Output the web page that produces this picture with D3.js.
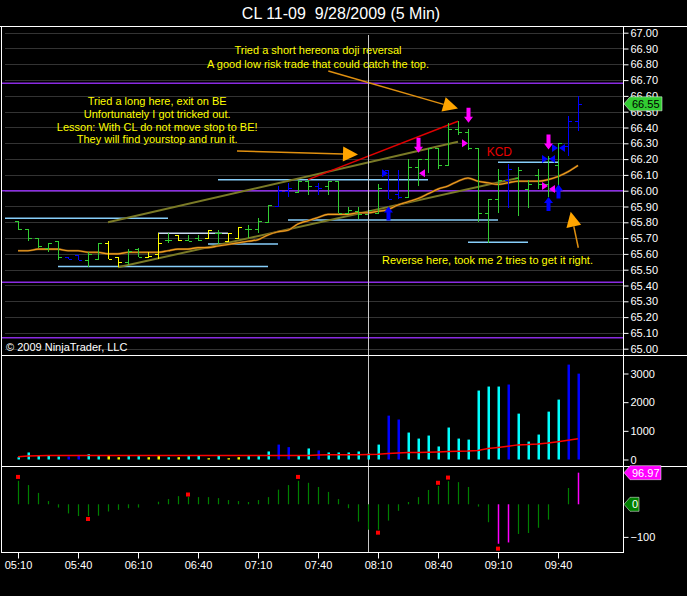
<!DOCTYPE html>
<html>
<head>
<meta charset="utf-8">
<script src="https://cdn.jsdelivr.net/npm/d3@7"></script>
<style>
body { margin: 0; background: #000; }
svg { display: block; font-family: "Liberation Sans", Arial, sans-serif; }
</style>
</head>
<body>
<div id="chart-wrapper"></div>
<script>
let width = 687
let height = 596

// 5 min bars, CL 11-09, 9/28/2009
let times = [
  "05:10","05:15","05:20","05:25","05:30","05:35","05:40","05:45","05:50","05:55",
  "06:00","06:05","06:10","06:15","06:20","06:25","06:30","06:35","06:40","06:45","06:50","06:55",
  "07:00","07:05","07:10","07:15","07:20","07:25","07:30","07:35","07:40","07:45","07:50","07:55",
  "08:00","08:05","08:10","08:15","08:20","08:25","08:30","08:35","08:40","08:45","08:50","08:55",
  "09:00","09:05","09:10","09:15","09:20","09:25","09:30","09:35","09:40","09:45","09:50"
]
let opens = [
  65.81,65.76,65.70,65.64,65.68,65.58,65.59,65.56,65.57,65.67,
  65.58,65.55,65.63,65.58,65.60,65.69,65.72,65.69,65.70,65.70,
  65.73,65.68,65.70,65.76,65.76,65.80,65.90,66.00,65.99,66.06,
  66.03,66.03,66.06,65.86,65.87,65.85,65.86,66.13,65.98,65.96,
  66.15,66.20,66.27,66.16,66.39,66.37,66.27,65.86,65.95,66.07,
  66.08,66.01,66.10,66.04,66.16,66.28,66.44
]
let highs = [
  65.81,65.76,65.70,65.67,65.68,65.58,65.59,65.61,65.67,65.68,
  65.58,65.63,65.64,65.61,65.73,65.73,65.72,65.72,65.72,65.75,
  65.75,65.73,65.77,65.78,65.83,65.91,66.03,66.05,66.07,66.07,
  66.05,66.06,66.06,65.90,65.90,65.90,66.04,66.13,66.13,66.20,
  66.20,66.27,66.27,66.43,66.44,66.39,66.27,65.95,66.14,66.17,
  66.15,66.07,66.14,66.22,66.30,66.47,66.60
]
let lows = [
  65.75,65.68,65.64,65.61,65.56,65.57,65.56,65.52,65.57,65.57,
  65.52,65.53,65.58,65.58,65.57,65.67,65.68,65.68,65.68,65.70,
  65.66,65.68,65.70,65.70,65.73,65.80,65.90,65.96,65.99,65.97,
  65.97,65.97,65.86,65.85,65.82,65.85,65.86,65.95,65.95,65.96,
  66.03,66.11,66.14,66.16,66.35,66.26,65.80,65.67,65.86,65.89,
  65.84,65.89,66.01,65.96,65.99,66.22,66.38
]
let closes = [
  65.76,65.70,65.65,65.67,65.58,65.57,65.56,65.60,65.67,65.57,
  65.55,65.62,65.58,65.585,65.67,65.69,65.69,65.68,65.69,65.75,
  65.73,65.73,65.77,65.76,65.81,65.91,66.00,66.02,66.06,66.03,
  66.02,66.06,65.86,65.88,65.85,65.88,66.02,65.95,65.96,66.15,
  66.20,66.27,66.16,66.39,66.37,66.27,65.86,65.95,66.07,66.14,
  66.13,66.04,66.04,66.21,66.30,66.44,66.55
]
// paint bar state per bar: g = green, b = blue, y = yellow
let barState = [
  "g","g","g","g","g","b","b","g","g","y",
  "y","g","g","y","y","g","y","g","g","y",
  "g","y","y","g","g","g","b","b","g","g",
  "b","g","g","g","g","g","g","b","b","g",
  "g","g","g","g","g","g","g","g","g","b",
  "g","g","g","g","g","b","b"
]
let priceMA = [
  65.62,65.62,65.63,65.63,65.63,65.62,65.62,65.61,65.61,65.60,
  65.60,65.61,65.61,65.61,65.61,65.62,65.63,65.63,65.64,65.64,
  65.65,65.66,65.67,65.68,65.69,65.72,65.74,65.75,65.79,65.81,
  65.83,65.85,65.85,65.85,65.86,65.86,65.87,65.88,65.91,65.93,
  65.95,65.98,66.01,66.03,66.06,66.08,66.06,66.05,66.04,66.05,
  66.06,66.06,66.06,66.07,66.09,66.12,66.16
]
let volumes = [
  80,245,150,150,105,105,160,185,115,115,
  80,115,115,80,115,80,80,115,150,45,
  150,45,80,115,115,280,520,430,150,385,
  315,245,245,245,280,210,520,1530,1395,940,
  730,835,455,1115,730,695,2405,2545,2545,2615,
  1600,625,870,1670,2090,3310,2995
]
let volumeMA = [
  100,120,135,140,140,140,140,140,140,140,
  140,140,140,140,140,140,140,140,140,140,
  140,140,140,140,140,140,140,140,140,140,
  160,165,165,170,170,175,185,205,225,240,
  245,255,265,275,285,295,315,380,420,465,
  510,520,540,575,620,670,720
]
let oscValues = [
  72,59,35,10,-10,-28,-36,-36,-35,-22,
  -17,-12,-10,0,8,16,25,23,22,22,
  19,13,10,7,13,22,45,59,72,66,
  53,38,16,-12,-53,-78,-78,-50,-20,7,
  22,44,56,71,68,53,-7,-55,-121,-117,
  -91,-88,-72,-47,0,50,97
]
let oscHot = [48, 49, 56]
let oscDots = [[0,84],[7,-45],[17,30],[28,84],[36,-87],[42,66],[43,82],[48,-136]]

// drawn objects: [start bar, end bar, price]
let purpleLevels = [66.68, 66.00, 65.42, 65.07]
let cyanLevels = [
  [-1.3,15,65.825],[4,25,65.52],[19,26,65.663],[14,21,65.73],
  [27,48,65.815],[20,41,66.07],[45,51,65.674],[48,54,66.18]
]
// trend lines: [bar, price, bar, price]
let redLines = [[29,66.07,44,66.44]]
let oliveLines = [[9,65.80,44,66.31],[10,65.515,50,66.08]]
let downArrows = [[40,66.24],[45,66.43],[53,66.26]]
let upArrows = [[37,65.90],[53,65.96],[54,66.04]]
let rightTris = [[37,66.11,"#0000ff"],[45,66.30,"#ff00ff"],[53,66.03,"#ff00ff"],[53,66.20,"#0000ff"],[54,66.27,"#0000ff"]]
let leftTris = [[40,66.11,"#ff00ff"],[53,66.01,"#ff00ff"],[53,66.20,"#0000ff"],[54,66.27,"#0000ff"]]
let noteArrows = [[31.03,66.758,44,66.52],[21.9,66.251,34,66.229],[56.03,65.639,55.27,65.867]]
let shortNote = ["Tried a short hereona doji reversal","A good low risk trade that could catch the top."]
let shortNoteY = [66.887, 66.803]
let longNote = ["Tried a long here, exit on BE","Unfortunately I got tricked out.","Lesson: With CL do not move stop to BE!","They will find yourstop and run it."]
let longNoteY = [66.566, 66.482, 66.402, 66.326]
let crossBar = 35

let priceTicks = [65.0,65.1,65.2,65.3,65.4,65.5,65.6,65.7,65.8,65.9,66.0,66.1,66.2,66.3,66.4,66.5,66.6,66.7,66.8,66.9,67.0]
let volTicks = [0,1000,2000,3000]
let oscTicks = [-100]
let timeTicks = ["05:10","05:40","06:10","06:40","07:10","07:40","08:10","08:40","09:10","09:40"]

let barColor = {g:"#32cd32", b:"#0000ff", y:"#ffff00"}
let volColor = {g:"#00ffff", b:"#0000ff", y:"#ffff00"}
let parseTime = d3.timeParse("%H:%M")

let svg = d3
  .select("#chart-wrapper")
  .append("svg")
  .attr("width", width)
  .attr("height", height)
svg.append("rect").attr("width", width).attr("height", height).attr("fill", "#000")

// Scales
let x = d3.scaleLinear().domain([0, times.length-1]).range([18, 578])
let xTime = d3.scaleTime().domain(d3.extent(times, t=>parseTime(t))).range([18, 578])
let yPrice = d3.scaleLinear().domain([65, 67]).range([348.7, 32.7])
let yVol = d3.scaleLinear().domain([0, 3000]).range([459.5, 373.5])
let yOsc = d3.scaleLinear().domain([-100, 0]).range([536.9, 504.3])

// Title
svg.append("text")
  .attr("x", 341).attr("y", 19)
  .attr("text-anchor", "middle")
  .attr("fill", "#fff")
  .attr("font-size", 16)
  .style("white-space", "pre")
  .text("CL 11-09  9/28/2009 (5 Min)")

// Price grid
let price = svg.append("g").attr("class", "price")
price.selectAll(".grid")
  .data(priceTicks)
  .enter()
  .append("line")
  .attr("x1", 5).attr("x2", 623)
  .attr("y1", d=>Math.round(yPrice(d))+0.5).attr("y2", d=>Math.round(yPrice(d))+0.5)
  .attr("stroke", "#333")

// crosshair
svg.append("line")
  .attr("x1", x(crossBar)+0.5).attr("x2", x(crossBar)+0.5)
  .attr("y1", 35).attr("y2", 552)
  .attr("stroke", "#c8c8c8")

price.selectAll(".purple")
  .data(purpleLevels)
  .enter()
  .append("line")
  .attr("x1", 2).attr("x2", 623)
  .attr("y1", d=>yPrice(d)).attr("y2", d=>yPrice(d))
  .attr("stroke", "#8a2be2").attr("stroke-width", 1.5)

price.selectAll(".cyan")
  .data(cyanLevels)
  .enter()
  .append("line")
  .attr("x1", d=>x(d[0])).attr("x2", d=>x(d[1]))
  .attr("y1", d=>yPrice(d[2])).attr("y2", d=>yPrice(d[2]))
  .attr("stroke", (d,i)=>i==3 ? "#c8d8f0" : "#87cefa").attr("stroke-width", 1.5)

price.selectAll(".olive")
  .data(oliveLines)
  .enter()
  .append("line")
  .attr("x1", d=>x(d[0])).attr("y1", d=>yPrice(d[1]))
  .attr("x2", d=>x(d[2])).attr("y2", d=>yPrice(d[3]))
  .attr("stroke", "#7a7a26").attr("stroke-width", 2)

price.selectAll(".red")
  .data(redLines)
  .enter()
  .append("line")
  .attr("x1", d=>x(d[0])).attr("y1", d=>yPrice(d[1]))
  .attr("x2", d=>x(d[2])).attr("y2", d=>yPrice(d[3]))
  .attr("stroke", "#e00000").attr("stroke-width", 1.5)

// moving average
let maLine = d3.line().x((d,i)=>x(i)).y(d=>yPrice(d)).curve(d3.curveMonotoneX)
price.append("path")
  .attr("d", maLine(priceMA))
  .attr("fill", "none")
  .attr("stroke", "#7a4a10").attr("stroke-width", 2.2)
price.append("path")
  .attr("d", maLine(priceMA))
  .attr("fill", "none")
  .attr("stroke", "#f0a020").attr("stroke-width", 1.1)

// OHLC bars
let bars = price.selectAll(".bar")
  .data(times)
  .enter()
  .append("g")
  .attr("stroke", (d,i)=>barColor[barState[i]])
  .attr("shape-rendering", "crispEdges")
bars.append("line")
  .attr("x1", (d,i)=>x(i)+0.5).attr("x2", (d,i)=>x(i)+0.5)
  .attr("y1", (d,i)=>yPrice(highs[i])).attr("y2", (d,i)=>yPrice(lows[i]))
bars.append("line")
  .attr("x1", (d,i)=>x(i)-3).attr("x2", (d,i)=>x(i)+0.5)
  .attr("y1", (d,i)=>Math.round(yPrice(opens[i]))+0.5).attr("y2", (d,i)=>Math.round(yPrice(opens[i]))+0.5)
bars.append("line")
  .attr("x1", (d,i)=>x(i)+0.5).attr("x2", (d,i)=>x(i)+4)
  .attr("y1", (d,i)=>Math.round(yPrice(closes[i]))+0.5).attr("y2", (d,i)=>Math.round(yPrice(closes[i]))+0.5)

// signal arrows
price.selectAll(".down")
  .data(downArrows)
  .enter()
  .append("path")
  .attr("d", d=>{
    let px = x(d[0])+0.5, py = yPrice(d[1])
    return `M${px},${py} L${px-4.5},${py-6} L${px-2},${py-6} L${px-2},${py-15} L${px+2},${py-15} L${px+2},${py-6} L${px+4.5},${py-6} Z`
  })
  .attr("fill", "#ff00ff")
price.selectAll(".up")
  .data(upArrows)
  .enter()
  .append("path")
  .attr("d", d=>{
    let px = x(d[0])+0.5, py = yPrice(d[1])
    return `M${px},${py} L${px-4.5},${py+6} L${px-2},${py+6} L${px-2},${py+14} L${px+2},${py+14} L${px+2},${py+6} L${px+4.5},${py+6} Z`
  })
  .attr("fill", "#0000ff")
price.selectAll(".rtri")
  .data(rightTris)
  .enter()
  .append("path")
  .attr("d", d=>{
    let px = x(d[0]), py = yPrice(d[1])
    return `M${px-6},${py-4} L${px},${py} L${px-6},${py+4} Z`
  })
  .attr("fill", d=>d[2])
price.selectAll(".ltri")
  .data(leftTris)
  .enter()
  .append("path")
  .attr("d", d=>{
    let px = x(d[0])+1, py = yPrice(d[1])
    return `M${px+6},${py-4} L${px},${py} L${px+6},${py+4} Z`
  })
  .attr("fill", d=>d[2])

// orange note arrows
noteArrows.forEach(a=>{
  let x0 = x(a[0]), y0 = yPrice(a[1]), x1 = x(a[2]), y1 = yPrice(a[3])
  let len = Math.hypot(x1-x0, y1-y0)
  let ux = (x1-x0)/len, uy = (y1-y0)/len
  let bx = x1-ux*15, by = y1-uy*15
  price.append("line")
    .attr("x1", x0).attr("y1", y0).attr("x2", bx).attr("y2", by)
    .attr("stroke", "#e09010").attr("stroke-width", 1.5)
  price.append("path")
    .attr("d", `M${x1},${y1} L${bx-uy*7.5},${by+ux*7.5} L${bx+uy*7.5},${by-ux*7.5} Z`)
    .attr("fill", "#ffa500")
})

// notes
let noteStyle = sel=>sel.attr("fill", "#ffff00").attr("font-size", 11).attr("text-anchor", "middle").attr("dy", "0.35em")
price.selectAll(".short")
  .data(shortNote)
  .enter()
  .append("text")
  .attr("x", x(30)).attr("y", (d,i)=>yPrice(shortNoteY[i]))
  .call(noteStyle)
  .text(d=>d)
price.selectAll(".long")
  .data(longNote)
  .enter()
  .append("text")
  .attr("x", x(13.92)).attr("y", (d,i)=>yPrice(longNoteY[i]))
  .call(noteStyle)
  .text(d=>d)
price.append("text")
  .attr("x", x(46.95)).attr("y", yPrice(65.561))
  .call(noteStyle)
  .text("Reverse here, took me 2 tries to get it right.")
price.append("text")
  .attr("x", x(46.87)).attr("y", yPrice(66.246))
  .attr("dy", "0.35em")
  .attr("fill", "#e80000").attr("font-size", 12)
  .text("KCD")
price.append("text")
  .attr("x", 6).attr("y", 351)
  .attr("fill", "#fff").attr("font-size", 11)
  .text("© 2009 NinjaTrader, LLC")

// Volume
let vol = svg.append("g").attr("class", "volume")
vol.selectAll("rect")
  .data(volumes)
  .enter()
  .append("rect")
  .attr("x", (d,i)=>x(i)-0.5)
  .attr("width", 2.5)
  .attr("y", d=>yVol(d))
  .attr("height", d=>yVol(0)-yVol(d))
  .attr("fill", (d,i)=>volColor[barState[i]])
vol.append("path")
  .attr("d", d3.line().x((d,i)=>x(i)).y(d=>yVol(d))(volumeMA))
  .attr("fill", "none")
  .attr("stroke", "#ff0000").attr("stroke-width", 1.5)

// Oscillator
let osc = svg.append("g").attr("class", "osc")
osc.selectAll("line")
  .data(oscValues)
  .enter()
  .append("line")
  .attr("x1", (d,i)=>x(i)+0.5).attr("x2", (d,i)=>x(i)+0.5)
  .attr("y1", yOsc(0)).attr("y2", d=>yOsc(d))
  .attr("stroke", (d,i)=>oscHot.includes(i) ? "#ff00ff" : "#008000")
  .attr("stroke-width", (d,i)=>oscHot.includes(i) ? 1.5 : 1.2)
osc.selectAll("rect")
  .data(oscDots)
  .enter()
  .append("rect")
  .attr("x", d=>x(d[0])-2).attr("y", d=>yOsc(d[1])-2)
  .attr("width", 4).attr("height", 4)
  .attr("fill", "#ff0000")

// Frame
let frame = svg.append("g").attr("stroke", "#fff").attr("shape-rendering", "crispEdges")
frame.append("line").attr("x1", 0).attr("x2", width).attr("y1", 26.5).attr("y2", 26.5)
frame.append("line").attr("x1", 1.5).attr("x2", 1.5).attr("y1", 26.5).attr("y2", 552.5)
frame.append("line").attr("x1", 1.5).attr("x2", width).attr("y1", 355.5).attr("y2", 355.5)
frame.append("line").attr("x1", 1.5).attr("x2", width).attr("y1", 466.5).attr("y2", 466.5)
frame.append("line").attr("x1", 623.5).attr("x2", 623.5).attr("y1", 26.5).attr("y2", 552.5)
frame.append("line").attr("x1", 1.5).attr("x2", 623.5).attr("y1", 552.5).attr("y2", 552.5)

// Axes
let styleAxis = g=>{
  g.select(".domain").remove()
  g.selectAll("line").attr("stroke", "#fff")
  g.selectAll("text").attr("fill", "#fff").attr("font-size", 11).attr("font-family", "Liberation Sans, Arial, sans-serif")
}
svg.append("g")
  .attr("transform", "translate(623.5,0)")
  .call(d3.axisRight(yPrice).tickValues(priceTicks).tickFormat(d3.format(".2f")).tickSize(5).tickPadding(2))
  .call(styleAxis)
svg.append("g")
  .attr("transform", "translate(623.5,0)")
  .call(d3.axisRight(yVol).tickValues(volTicks).tickFormat(d3.format("d")).tickSize(5).tickPadding(2))
  .call(styleAxis)
svg.append("g")
  .attr("transform", "translate(623.5,0)")
  .call(d3.axisRight(yOsc).tickValues(oscTicks).tickFormat(d3.format("d")).tickSize(5).tickPadding(2))
  .call(styleAxis)
svg.append("g")
  .attr("transform", "translate(0,552.5)")
  .call(d3.axisBottom(xTime).tickValues(timeTicks.map(t=>parseTime(t))).tickFormat(d3.timeFormat("%H:%M")).tickSize(6).tickPadding(3))
  .call(styleAxis)

// last value boxes
let valueBox = (yv, label, fill, textFill, w)=>{
  let b = svg.append("g").attr("transform", `translate(624,${yv})`)
  b.append("path")
    .attr("d", `M0,0 L6,-7 L${w},-7 L${w},7 L6,7 Z`)
    .attr("fill", fill).attr("stroke", "#fff").attr("stroke-width", 0.5)
  b.append("text")
    .attr("x", 8).attr("dy", "0.35em")
    .attr("fill", textFill).attr("font-size", 11)
    .text(label)
}
valueBox(yPrice(closes[closes.length-1]), d3.format(".2f")(closes[closes.length-1]), "#32cd32", "#000", 38)
valueBox(yOsc(oscValues[oscValues.length-1]), "96.97", "#ff00ff", "#fff", 37)
valueBox(yOsc(0), "0", "#008000", "#fff", 15)
</script>
</body>
</html>
